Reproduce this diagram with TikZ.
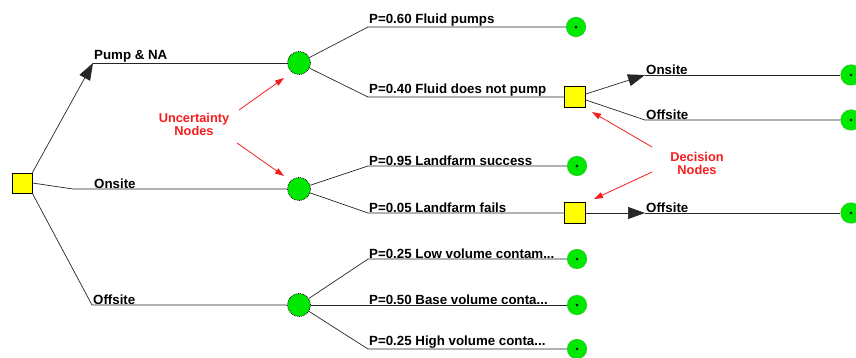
\documentclass[tikz,border=0pt]{standalone}
\usepackage{fontspec}
\setmainfont{Liberation Sans}
\usetikzlibrary{arrows.meta}
\definecolor{nodegreen}{RGB}{0,232,0}
\definecolor{decyellow}{RGB}{255,255,0}
\definecolor{notered}{RGB}{245,30,30}
\begin{document}
\begin{tikzpicture}[x=1pt,y=-1pt,
 decbox/.style={draw=black,fill=decyellow,minimum size=20pt,inner sep=0pt,line width=0.8pt},
 chance/.style={circle,draw=black,densely dotted,line width=0.8pt,fill=nodegreen,minimum size=23pt,inner sep=0pt},
 term/.style={circle,draw=black!50,densely dotted,fill=nodegreen,minimum size=20pt,inner sep=0pt,
   path picture={\fill[black] (path picture bounding box.center) circle (1.4pt);}},
 edge/.style={draw=black!85,line width=0.7pt},
 lbl/.style={anchor=south west,font=\bfseries\fontsize{13.3}{14}\selectfont,inner sep=1pt,yshift=-0.5pt},
 bigarrow/.style={-{Triangle[length=17pt,width=12pt]}},
 note/.style={text=notered,font=\bfseries\fontsize{12.8}{13}\selectfont,align=center},
 redarrow/.style={notered,line width=0.8pt,-{Triangle[length=9pt,width=6pt]}}
]
\useasboundingbox (0,0) rectangle (856,358);

% nodes
\node[decbox] (sq0) at (22,183) {};
\node[chance] (c1) at (299,63) {};
\node[chance] (c2) at (299,189) {};
\node[chance] (c3) at (299,305) {};
\node[decbox,minimum size=21pt] (sq2) at (575,97) {};
\node[decbox,minimum size=21pt] (sq3) at (575,213) {};
\node[term] (t1) at (576,27) {};
\node[term] (t2) at (577,166) {};
\node[term] (t3) at (577,259) {};
\node[term] (t4) at (577,305) {};
\node[term] (t5) at (577,349) {};
\node[term,minimum size=21pt] (t6) at (851,75) {};
\node[term,minimum size=21pt] (t7) at (851,120) {};
\node[term,minimum size=21pt] (t8) at (851,213) {};

% bend points
\coordinate (b1) at (93,63);
\coordinate (b2) at (73,189);
\coordinate (b3) at (92,305);
\coordinate (p1) at (368,27);
\coordinate (p2) at (368,97);
\coordinate (p3) at (368,166);
\coordinate (p4) at (368,213);
\coordinate (p5) at (368,259);
\coordinate (p7) at (368,349);
\coordinate (d1) at (645,75);
\coordinate (d2) at (645,120);
\coordinate (d3) at (645,213);

% first level
\draw[edge,bigarrow] (sq0.north east) -- (b1);
\draw[edge] (b1) -- (c1);
\draw[edge] (sq0.east) -- (b2) -- (c2);
\draw[edge] (sq0.south east) -- (b3) -- (c3);
\node[lbl] (l1) at (b1) {Pump \& NA};
\node[lbl] (l2) at (93,189) {Onsite};
\node[lbl] (l3) at (b3) {Offsite};

% chance 1
\draw[edge] (c1) -- (p1) -- (t1);
\draw[edge] (c1) -- (p2) -- (sq2);
\node[lbl] (l4) at (p1) {P=0.60 Fluid pumps};
\node[lbl] (l5) at (p2) {P=0.40 Fluid does not pump};

% chance 2
\draw[edge] (c2) -- (p3) -- (t2);
\draw[edge] (c2) -- (p4) -- (sq3);
\node[lbl] (l6) at (p3) {P=0.95 Landfarm success};
\node[lbl] (l7) at (p4) {P=0.05 Landfarm fails};

% chance 3
\draw[edge] (c3) -- (p5) -- (t3);
\draw[edge] (c3) -- (t4);
\draw[edge] (c3) -- (p7) -- (t5);
\node[lbl] (l8) at (p5) {P=0.25 Low volume contam...};
\node[lbl] (l9) at (368,305) {P=0.50 Base volume conta...};
\node[lbl] (l10) at (p7) {P=0.25 High volume conta...};

% decision 2
\draw[edge,bigarrow] (sq2.east) ++(0,-3) -- (d1);
\draw[edge] (d1) -- (t6);
\draw[edge] (sq2.east) ++(0,3) -- (d2) -- (t7);
\node[lbl] (l11) at (d1) {Onsite};
\node[lbl] (l12) at (d2) {Offsite};

% decision 3
\draw[edge,bigarrow] (sq3) -- (d3);
\draw[edge] (d3) -- (t8);
\node[lbl] (l13) at (d3) {Offsite};

% notes
\node[note] (un) at (194,124) {Uncertainty\\Nodes};
\draw[redarrow] (239,110) -- (284,78);
\draw[redarrow] (237,143) -- (284,176);
\node[note] (dn) at (697,163) {Decision\\Nodes};
\draw[redarrow] (652,147) -- (592,112);
\draw[redarrow] (652,172) -- (594,199);
\end{tikzpicture}
\end{document}
